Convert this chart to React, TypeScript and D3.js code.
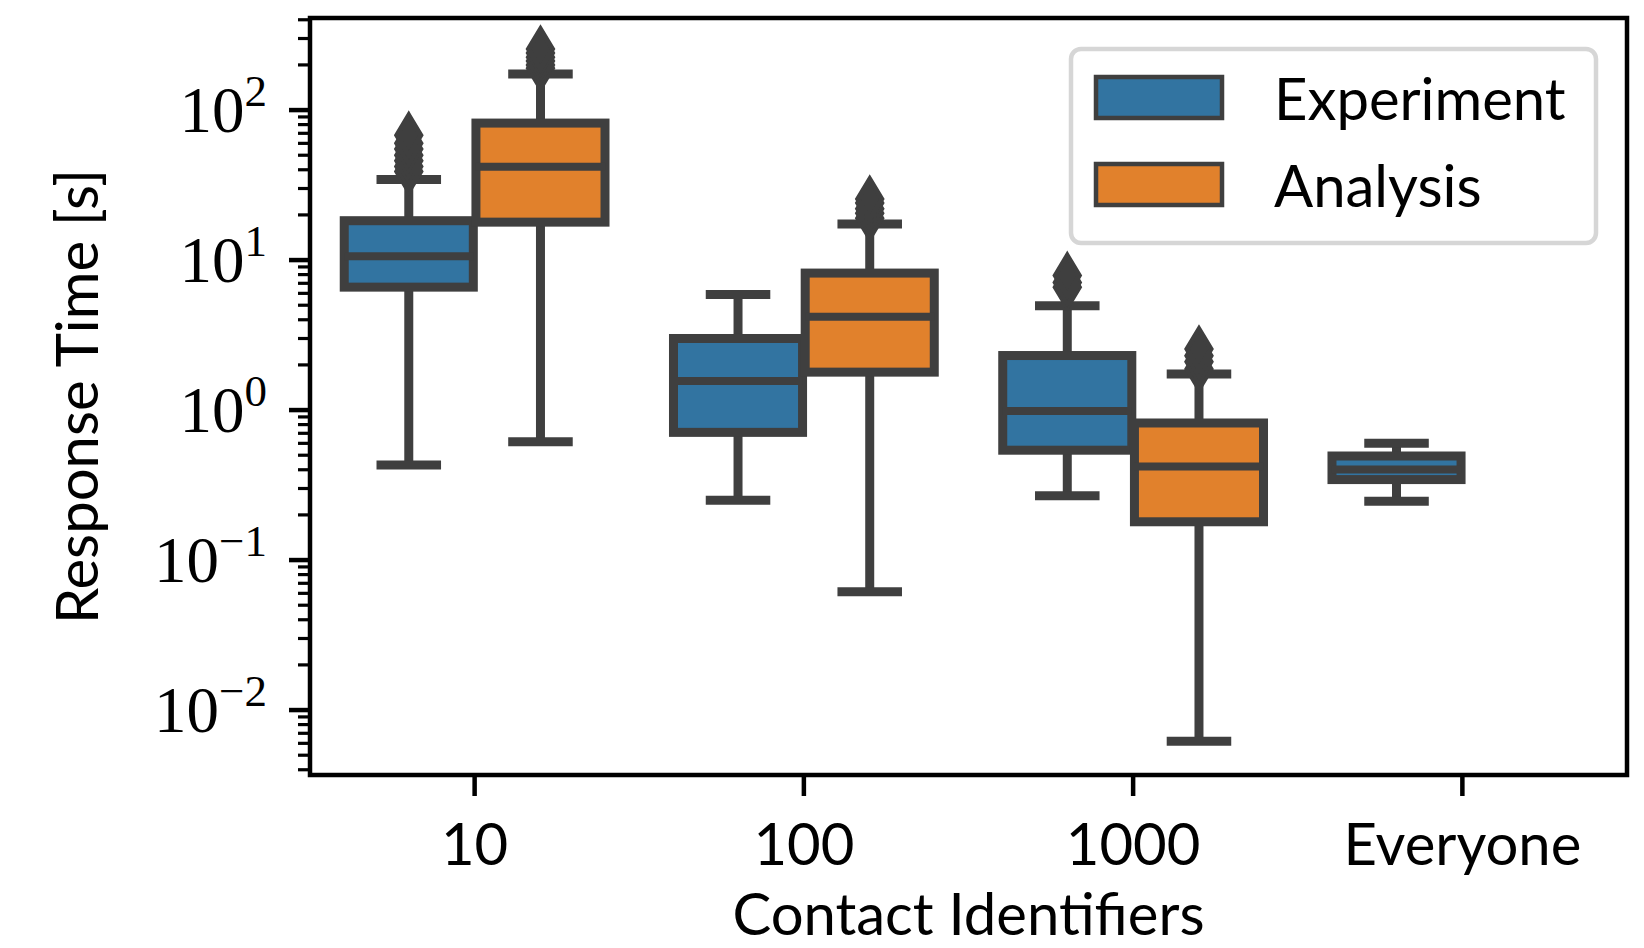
import { useEffect, useRef } from 'react';
import * as d3 from 'd3';

const categories = ['10', '100', '1000', 'Everyone'];
const seriesNames = ['Experiment', 'Analysis'];
const seriesColors = ['#3274a1', '#e1812c'];

// [lower whisker, Q1, median, Q3, upper whisker]
const experimentStats = [
  [0.43, 6.6, 10.6, 18.3, 34.5],
  [0.25, 0.71, 1.56, 3.0, 5.9],
  [0.268, 0.54, 0.985, 2.31, 4.96],
  [0.247, 0.344, 0.401, 0.494, 0.6],
];
const analysisStats = [
  [0.615, 17.9, 41.9, 81.9, 174],
  [0.0615, 1.79, 4.19, 8.19, 17.4],
  [0.0062, 0.18, 0.42, 0.82, 1.74],
  null,
];
const experimentFliers = [[39, 42, 46, 50, 55, 60, 68], [], [6.6, 7.1, 7.9], []];
const analysisFliers = [
  [190, 200, 212, 225, 240, 255],
  [19, 20.5, 22, 24, 25.5],
  [1.88, 2.1, 2.3, 2.55],
  [],
];

const yDomain = [0.00369, 411];

const WIDTH = 1644;
const HEIGHT = 948;
const margin = { top: 18, right: 17, bottom: 173, left: 310 };
const GRAY = '#3f3f3f';
const SANS = 'Lato, "DejaVu Sans", sans-serif';
const SERIF = '"Liberation Serif", "DejaVu Serif", serif';
const FONT = '58px';

function BoxChart() {
  const svgRef = useRef<SVGSVGElement>(null);

  useEffect(() => {
    const svg = d3.select(svgRef.current);
    svg.selectAll('*').remove();

    const x = d3
      .scaleBand()
      .domain(categories)
      .range([margin.left, WIDTH - margin.right])
      .paddingInner(0)
      .paddingOuter(0);
    const y = d3
      .scaleLog()
      .domain(yDomain)
      .range([HEIGHT - margin.bottom, margin.top]);

    const bw = x.bandwidth();
    const hueWidth = (bw * 0.8) / seriesNames.length;
    const boxWidth = hueWidth * 0.98;
    const lw = 9;

    const stats = [experimentStats, analysisStats];
    const fliers = [experimentFliers, analysisFliers];

    const plot = svg.append('g');

    categories.forEach((cat, ci) => {
      seriesNames.forEach((_, si) => {
        const s = stats[si][ci];
        if (!s) return;
        const [lo, q1, med, q3, hi] = s;
        const cx = x(cat)! + bw / 2 - bw * 0.4 + hueWidth * (si + 0.5);
        const g = plot.append('g');

        // whiskers
        g.append('line')
          .attr('x1', cx).attr('x2', cx)
          .attr('y1', y(q1)).attr('y2', y(lo))
          .attr('stroke', GRAY).attr('stroke-width', lw);
        g.append('line')
          .attr('x1', cx).attr('x2', cx)
          .attr('y1', y(q3)).attr('y2', y(hi))
          .attr('stroke', GRAY).attr('stroke-width', lw);
        // caps
        [lo, hi].forEach(v => {
          g.append('line')
            .attr('x1', cx - boxWidth / 4).attr('x2', cx + boxWidth / 4)
            .attr('y1', y(v)).attr('y2', y(v))
            .attr('stroke', GRAY).attr('stroke-width', lw);
        });
        // box
        g.append('rect')
          .attr('x', cx - boxWidth / 2)
          .attr('y', y(q3))
          .attr('width', boxWidth)
          .attr('height', y(q1) - y(q3))
          .attr('fill', seriesColors[si])
          .attr('stroke', GRAY)
          .attr('stroke-width', lw);
        // median
        g.append('line')
          .attr('x1', cx - boxWidth / 2).attr('x2', cx + boxWidth / 2)
          .attr('y1', y(med)).attr('y2', y(med))
          .attr('stroke', GRAY).attr('stroke-width', lw - 1);
        // fliers
        g.selectAll('path.flier')
          .data(fliers[si][ci])
          .enter()
          .append('path')
          .attr('class', 'flier')
          .attr('d', 'M0,-20L12,0L0,20L-12,0Z')
          .attr('transform', d => `translate(${cx},${y(d)})`)
          .attr('fill', GRAY)
          .attr('stroke', GRAY)
          .attr('stroke-width', 5);
      });
    });

    // y ticks
    const ticks = y.ticks();
    const isMajor = (t: number) => Math.abs(Math.log10(t) - Math.round(Math.log10(t))) < 1e-9;
    const yAxis = svg.append('g');
    yAxis
      .selectAll('line')
      .data(ticks)
      .enter()
      .append('line')
      .attr('x1', d => margin.left - (isMajor(d) ? 21 : 12))
      .attr('x2', margin.left)
      .attr('y1', d => y(d))
      .attr('y2', d => y(d))
      .attr('stroke', '#000')
      .attr('stroke-width', d => (isMajor(d) ? 4.5 : 3.2));

    const labels = yAxis
      .selectAll('text')
      .data(ticks.filter(isMajor))
      .enter()
      .append('text')
      .attr('x', 267)
      .attr('y', d => y(d) + 22)
      .attr('text-anchor', 'end')
      .style('font-family', SERIF)
      .style('font-size', '65px')
      .style('fill', '#000');
    labels.append('tspan').text('10');
    labels
      .append('tspan')
      .attr('dy', -26)
      .style('font-size', '45px')
      .text(d => String(Math.round(Math.log10(d))).replace('-', '\u2212'));

    // x ticks
    const xAxis = svg.append('g');
    xAxis
      .selectAll('line')
      .data(categories)
      .enter()
      .append('line')
      .attr('x1', d => x(d)! + bw / 2)
      .attr('x2', d => x(d)! + bw / 2)
      .attr('y1', HEIGHT - margin.bottom)
      .attr('y2', HEIGHT - margin.bottom + 21)
      .attr('stroke', '#000')
      .attr('stroke-width', 4.5);
    xAxis
      .selectAll('text')
      .data(categories)
      .enter()
      .append('text')
      .attr('x', d => x(d)! + bw / 2)
      .attr('y', 865)
      .attr('text-anchor', 'middle')
      .style('font-family', SANS)
      .style('font-size', FONT)
      .text(d => d);

    // spines
    svg
      .append('rect')
      .attr('x', margin.left)
      .attr('y', margin.top)
      .attr('width', WIDTH - margin.left - margin.right)
      .attr('height', HEIGHT - margin.top - margin.bottom)
      .attr('fill', 'none')
      .attr('stroke', '#000')
      .attr('stroke-width', 4.5);

    // axis labels
    svg
      .append('text')
      .attr('x', (margin.left + WIDTH - margin.right) / 2)
      .attr('y', 935)
      .attr('text-anchor', 'middle')
      .style('font-family', SANS)
      .style('font-size', FONT)
      .text('Contact Identifiers');
    svg
      .append('text')
      .attr('transform', `translate(98, ${(margin.top + HEIGHT - margin.bottom) / 2}) rotate(-90)`)
      .attr('text-anchor', 'middle')
      .style('font-family', SANS)
      .style('font-size', FONT)
      .text('Response Time [s]');

    // legend
    const legend = svg.append('g');
    legend
      .append('rect')
      .attr('x', 1071)
      .attr('y', 49)
      .attr('width', 525)
      .attr('height', 194)
      .attr('rx', 10)
      .attr('fill', 'rgba(255,255,255,0.8)')
      .attr('stroke', '#d6d6d6')
      .attr('stroke-width', 4.5);
    const items = legend
      .selectAll('g.item')
      .data(seriesNames)
      .enter()
      .append('g')
      .attr('class', 'item')
      .attr('transform', (_, i) => `translate(0, ${i * 87})`);
    items
      .append('rect')
      .attr('x', 1096)
      .attr('y', 77)
      .attr('width', 126)
      .attr('height', 41)
      .attr('fill', (_, i) => seriesColors[i])
      .attr('stroke', GRAY)
      .attr('stroke-width', 4.5);
    items
      .append('text')
      .attr('x', 1274)
      .attr('y', 120)
      .style('font-family', SANS)
      .style('font-size', FONT)
      .text(d => d);
  }, []);

  return (
    <svg
      ref={svgRef}
      width={WIDTH}
      height={HEIGHT}
      style={{ position: 'absolute', left: 0, top: 0, background: '#fff' }}
    />
  );
}

export default function App() {
  return <BoxChart />;
}
